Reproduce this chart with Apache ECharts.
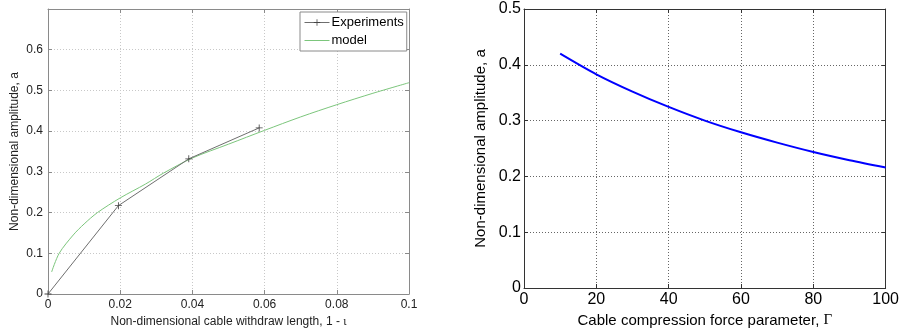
<!DOCTYPE html>
<html>
<head>
<meta charset="utf-8">
<script src="https://cdn.jsdelivr.net/npm/echarts@6/dist/echarts.min.js"></script>
<style>
  html, body { margin: 0; padding: 0; background: #fff; }
  #chart { width: 902px; height: 335px; }
</style>
</head>
<body>
<div id="chart"></div>
<script>
// Left panel: measured amplitude vs. cable withdraw length, with model curve
const expX = [0, 0.0195, 0.039, 0.0585];
const expY = [0, 0.217, 0.332, 0.408];
const modelX = [0.001, 0.0031, 0.007, 0.01, 0.0137, 0.02, 0.027, 0.032, 0.04, 0.05, 0.06, 0.07, 0.08, 0.09, 0.1];
const modelY = [0.054, 0.1, 0.145, 0.172, 0.2, 0.236, 0.27, 0.297, 0.334, 0.368, 0.402, 0.435, 0.465, 0.493, 0.519];

// Right panel: amplitude vs. cable compression force parameter
const gammaX = [10, 20, 30, 40, 50, 60, 70, 80, 90, 100];
const ampY = [0.42, 0.383, 0.352, 0.3245, 0.3, 0.279, 0.2605, 0.2437, 0.229, 0.216];

const legendNames = ['Experiments', 'model'];

const pair = (xs, ys) => xs.map((x, i) => [x, ys[i]]);
const SANS = 'Liberation Sans, Arial, sans-serif';
const SERIF = 'Liberation Serif, Times New Roman, serif';
const plus = 'path://M0,4.4h10v1.2h-10z M4.4,0h1.2v10h-1.2z';

// Shared builders for the framed MATLAB-like axes
function mainAxis(dim, gridIndex, o) {
  return Object.assign({
    type: 'value', gridIndex,
    position: dim === 'x' ? 'bottom' : 'left',
    axisLine: { show: true, onZero: false, lineStyle: { color: o.frame, width: 1 } },
    axisTick: { show: true, inside: true, length: 4, lineStyle: { color: o.frame } },
    splitLine: { show: true, lineStyle: { type: [1, 2], color: o.gridColor, width: 1 } },
    axisLabel: { color: o.textColor, fontFamily: SANS, fontSize: o.labelSize, margin: o.margin },
    nameLocation: 'middle',
    nameTextStyle: { color: o.textColor, fontFamily: SANS, fontSize: o.nameSize }
  }, o.extra);
}
function mirrorAxis(dim, gridIndex, o) {
  return Object.assign({
    type: 'value', gridIndex,
    position: dim === 'x' ? 'top' : 'right',
    axisLine: { show: true, onZero: false, lineStyle: { color: o.frame, width: 1 } },
    axisTick: { show: true, inside: true, length: 4, lineStyle: { color: o.frame } },
    splitLine: { show: false },
    axisLabel: { show: false }
  }, o.extra);
}

const L = { frame: '#8a8a8a', gridColor: '#c8c8c8', textColor: '#222', labelSize: 12, nameSize: 12, margin: 5 };
const R = { frame: '#333', gridColor: '#666', textColor: '#000', labelSize: 16, nameSize: 15, margin: 4 };

const lxRange = { min: 0, max: 0.1, interval: 0.02 };
const lyRange = { min: 0, max: 0.7, interval: 0.1 };
const rxRange = { min: 0, max: 100, interval: 20 };
const ryRange = { min: 0, max: 0.5, interval: 0.1 };

const chart = echarts.init(document.getElementById('chart'), null, { renderer: 'canvas' });
chart.setOption({
  animation: false,
  backgroundColor: '#fff',
  grid: [
    { left: 48, right: 493, top: 9, bottom: 41 },
    { left: 524, right: 15, top: 9, bottom: 47 }
  ],
  legend: {
    data: [
      { name: legendNames[0] },
      { name: legendNames[1], itemStyle: { opacity: 0 } }
    ],
    orient: 'vertical',
    left: 300, top: 12,
    itemWidth: 25, itemHeight: 8, itemGap: 5,
    padding: [4, 3, 4, 4],
    borderColor: '#8a8a8a', borderWidth: 1,
    backgroundColor: '#fff',
    lineStyle: { width: 1 },
    textStyle: { color: '#000', fontFamily: SANS, fontSize: 13, padding: [0, 0, 0, -3] }
  },
  xAxis: [
    mainAxis('x', 0, Object.assign({}, L, { extra: Object.assign({
      name: 'Non-dimensional cable withdraw length, 1 - {s|ι}', nameGap: 18,
      nameTextStyle: { color: '#222', fontFamily: SANS, fontSize: 12, rich: { s: { fontFamily: SERIF, fontSize: 12, color: '#222' } } },
      axisLabel: { color: '#222', fontFamily: SANS, fontSize: 12, margin: 5, formatter: v => String(+v.toFixed(2)) }
    }, lxRange) })),
    mirrorAxis('x', 0, Object.assign({}, L, { extra: lxRange })),
    mainAxis('x', 1, Object.assign({}, R, { extra: Object.assign({
      name: 'Cable compression force parameter, {g|Γ}', nameGap: 24,
      nameTextStyle: { color: '#000', fontFamily: SANS, fontSize: 15, rich: { g: { fontFamily: SERIF, fontSize: 15, color: '#000' } } }
    }, rxRange) })),
    mirrorAxis('x', 1, Object.assign({}, R, { extra: rxRange }))
  ],
  yAxis: [
    mainAxis('y', 0, Object.assign({}, L, { extra: Object.assign({
      name: 'Non-dimensional amplitude, a', nameGap: 27,
      axisLabel: { color: '#222', fontFamily: SANS, fontSize: 12, margin: 5,
        formatter: v => (v > 0.65 ? '' : String(+v.toFixed(1))) }
    }, lyRange) })),
    mirrorAxis('y', 0, Object.assign({}, L, { extra: lyRange })),
    mainAxis('y', 1, Object.assign({}, R, { extra: Object.assign({
      name: 'Non-dimensional amplitude, a', nameGap: 36,
      axisLabel: { color: '#000', fontFamily: SANS, fontSize: 16, margin: 3, formatter: v => String(+v.toFixed(1)) }
    }, ryRange) })),
    mirrorAxis('y', 1, Object.assign({}, R, { extra: ryRange }))
  ],
  series: [
    {
      name: legendNames[0], type: 'line', xAxisIndex: 0, yAxisIndex: 0,
      data: pair(expX, expY),
      symbol: plus, symbolSize: 7, showSymbol: true,
      lineStyle: { color: '#6e6e6e', width: 1 },
      itemStyle: { color: '#444' },
      z: 3
    },
    {
      name: legendNames[1], type: 'line', xAxisIndex: 0, yAxisIndex: 0,
      data: pair(modelX, modelY),
      smooth: 0.3, showSymbol: false, symbol: 'none',
      lineStyle: { color: '#7cc67c', width: 1 },
      itemStyle: { color: '#7cc67c' },
      z: 2
    },
    {
      name: 'amplitude', type: 'line', xAxisIndex: 2, yAxisIndex: 2,
      data: pair(gammaX, ampY),
      smooth: 0.3, showSymbol: false, symbol: 'none',
      lineStyle: { color: '#0000ff', width: 2 }
    }
  ]
});
</script>
</body>
</html>
